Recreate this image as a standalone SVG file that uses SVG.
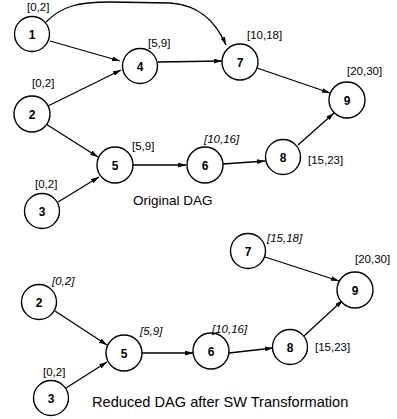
<svg xmlns="http://www.w3.org/2000/svg" width="397" height="419" viewBox="0 0 397 419">
<defs>
<marker id="ah" viewBox="0 0 10 6" refX="10" refY="3" markerWidth="8" markerHeight="5" markerUnits="userSpaceOnUse" orient="auto">
<path d="M0,0 L10,3 L0,6 Z" fill="#000"/>
</marker>
</defs>
<style>
.n{fill:#fff;stroke:#000;stroke-width:1.4}
.t{font-family:"Liberation Sans",Arial,sans-serif;font-size:12px;font-weight:bold;text-anchor:middle;fill:#000}
.l{font-family:"Liberation Sans",Arial,sans-serif;font-size:11.5px;fill:#000}
.i{font-style:italic}
.c{font-family:"Liberation Sans",Arial,sans-serif;font-size:13.5px;fill:#000}
.e{fill:none;stroke:#000;stroke-width:1.3;marker-end:url(#ah)}
</style>
<rect width="397" height="419" fill="#fff"/>
<g id="edges">
<path class="e" d="M46,22 C62,6 78,2 110,2 L170,3 C200,5 216,22 226,45"/>
<path class="e" d="M50,41 L120,61"/>
<path class="e" d="M48,106 L121,70"/>
<path class="e" d="M158,62 L222,61"/>
<path class="e" d="M257,68 L330,93"/>
<path class="e" d="M46,124 L98,157"/>
<path class="e" d="M58,202 L99,177"/>
<path class="e" d="M133,165 L186,165"/>
<path class="e" d="M223,164 L265,161"/>
<path class="e" d="M298,145 L334,113"/>
<path class="e" d="M55,311 L107,345"/>
<path class="e" d="M66,388 L107,362"/>
<path class="e" d="M142,353 L193,353"/>
<path class="e" d="M229,353 L273,348"/>
<path class="e" d="M265,257 L339,281"/>
<path class="e" d="M304,336 L343,300"/>
</g>
<g id="node1"><circle class="n" cx="32" cy="34" r="17.5"/><text class="t" x="32" y="39">1</text><text class="l" x="27" y="11">[0,2]</text></g>
<g id="node4"><circle class="n" cx="140" cy="66" r="17.5"/><text class="t" x="140" y="71">4</text><text class="l" x="148" y="47">[5,9]</text></g>
<g id="node2"><circle class="n" cx="32" cy="114" r="18"/><text class="t" x="32" y="119">2</text><text class="l" x="32" y="87">[0,2]</text></g>
<g id="node7"><circle class="n" cx="240" cy="62" r="18"/><text class="t" x="240" y="67">7</text><text class="l" x="247" y="39">[10,18]</text></g>
<g id="node9"><circle class="n" cx="347" cy="100" r="18"/><text class="t" x="347" y="105">9</text><text class="l" x="347" y="75">[20,30]</text></g>
<g id="node5"><circle class="n" cx="115" cy="165" r="18"/><text class="t" x="115" y="170">5</text><text class="l" x="132" y="150">[5,9]</text></g>
<g id="node3"><circle class="n" cx="42" cy="211" r="17.5"/><text class="t" x="42" y="216">3</text><text class="l" x="35" y="188">[0,2]</text></g>
<g id="node6"><circle class="n" cx="205" cy="165" r="18"/><text class="t" x="205" y="170">6</text><text class="l i" x="204" y="143">[10,16]</text></g>
<g id="node8"><circle class="n" cx="283" cy="157" r="17.5"/><text class="t" x="283" y="162">8</text><text class="l" x="308" y="164">[15,23]</text></g>
<text class="c" x="133" y="205">Original DAG</text>
<g id="rnode2"><circle class="n" cx="39" cy="302" r="17.5"/><text class="t" x="39" y="307">2</text><text class="l i" x="52" y="285">[0,2]</text></g>
<g id="rnode5"><circle class="n" cx="124" cy="353" r="18"/><text class="t" x="124" y="358">5</text><text class="l i" x="140" y="335">[5,9]</text></g>
<g id="rnode3"><circle class="n" cx="51" cy="398" r="17.5"/><text class="t" x="51" y="403">3</text><text class="l" x="43" y="376">[0,2]</text></g>
<g id="rnode6"><circle class="n" cx="211" cy="351" r="18"/><text class="t" x="211" y="356">6</text><text class="l i" x="212" y="333">[10,16]</text></g>
<g id="rnode8"><circle class="n" cx="290" cy="347" r="17.5"/><text class="t" x="290" y="352">8</text><text class="l" x="315" y="351">[15,23]</text></g>
<g id="rnode7"><circle class="n" cx="248" cy="251" r="17.5"/><text class="t" x="248" y="256">7</text><text class="l i" x="267" y="242">[15,18]</text></g>
<g id="rnode9"><circle class="n" cx="355" cy="290" r="18"/><text class="t" x="355" y="295">9</text><text class="l" x="355" y="263">[20,30]</text></g>
<text class="c" x="92" y="407" style="font-size:14.6px">Reduced DAG after SW Transformation</text>
</svg>
